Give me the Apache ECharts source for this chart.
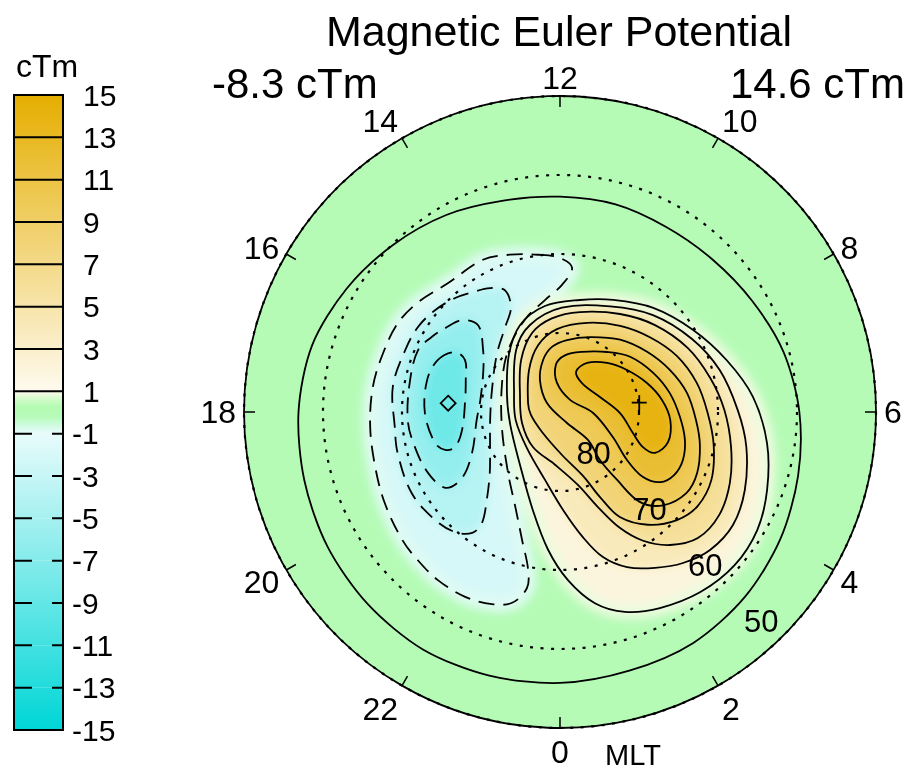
<!DOCTYPE html>
<html>
<head>
<meta charset="utf-8">
<title>Magnetic Euler Potential</title>
<script src="https://cdn.jsdelivr.net/npm/echarts@6/dist/echarts.min.js"></script>
<style>
  html, body { margin: 0; padding: 0; background: #fff; }
  #wrap { position: relative; width: 914px; height: 775px; }
  #shade, #main { position: absolute; left: 0; top: 0; width: 914px; height: 775px; }
  /* colour layer: softened so the filled bands read as a continuous field */
  #shade { filter: blur(5px); clip-path: circle(316px at 560px 412px); }
</style>
</head>
<body>
<div id="wrap"><div id="shade"></div><div id="main"></div></div>
<script>
// ---------- data ----------
const titleText = 'Magnetic Euler Potential';
const unit = 'cTm';
const minValue = -8.3;
const maxValue = 14.6;
// extremum locations as [magnetic latitude, MLT]
const minPos = [75.8, 17.7];
const maxPos = [79.9, 6.45];

// colour bar levels
const barLevels = [-15, -13, -11, -9, -7, -5, -3, -1, 1, 3, 5, 7, 9, 11, 13, 15];
// MLT hour labels round the rim
const hourLabels = [0, 2, 4, 6, 8, 10, 12, 14, 16, 18, 20, 22];
// latitude rings that get a label
const latRings = [80, 70, 60, 50];

// contour lines, each point is [magnetic latitude, MLT]
const contourNeg7 = [[73.2,16.46],[74.7,16.02],[76.3,16.09],[77.4,16.75],[77.9,17.52],[77.4,18.69],[76.0,19.23],[74.7,19.22],[73.7,18.93],[72.9,18.03],[72.7,17.1]];
const contourNeg5 = [[72.0,15.59],[73.0,15.12],[74.9,14.89],[77.5,15.41],[79.1,16.21],[79.8,17.43],[79.4,18.37],[77.7,19.67],[75.0,20.27],[72.6,20.23],[71.6,19.65],[71.1,18.9],[70.7,18.2],[70.6,17.2],[70.4,16.43],[71.2,15.97]];
const contourNeg3 = [[68.6,17.43],[69.0,18.35],[68.8,18.95],[68.6,19.91],[69.1,20.72],[69.8,21.25],[71.1,21.6],[72.8,21.66],[75.5,21.35],[78.2,20.74],[80.1,19.77],[81.1,18.43],[80.95,16.81],[79.2,15.19],[77.2,14.19],[75.4,13.68],[73.1,13.62],[72.0,13.96],[71.2,14.42],[70.4,14.84],[69.6,15.39],[69.05,15.94],[68.9,16.55]];
const contourNeg1 = [[69.9,12.53],[70.5,12.0],[71.7,11.68],[73.9,11.94],[75.7,12.51],[77.5,13.39],[79.8,14.67],[81.8,16.23],[82.4,18.97],[79.85,21.31],[76.9,22.28],[73.1,22.9],[69.6,23.24],[67.3,23.29],[65.1,23.06],[64.2,22.7],[63.7,22.19],[63.7,21.6],[64.0,21.08],[64.3,20.6],[65.0,19.83],[65.6,19.1],[65.9,18.3],[66.1,17.49],[66.4,16.77],[66.6,16.08],[67.3,15.48],[68.4,14.73],[68.4,13.79],[69.1,13.18]];
const contourPos1 = [[82.95,16.81],[80.3,14.79],[77.9,13.65],[76.45,12.54],[75.6,11.33],[74.3,10.31],[72.3,9.21],[70.2,8.11],[67.9,7.15],[65.5,6.3],[63.5,5.43],[62.0,4.63],[60.9,3.94],[60.6,3.25],[61.1,2.53],[62.15,1.8],[63.4,1.2],[65.4,0.69],[68.7,0.18],[72.5,23.67],[77.1,22.97],[81.6,21.53],[83.5,18.97]];
const contourPos3 = [[83.8,16.65],[80.4,14.36],[78.35,13.27],[76.8,11.93],[75.2,10.31],[73.0,9.08],[70.9,7.93],[69.1,6.98],[67.5,6.04],[66.0,5.29],[64.6,4.47],[63.85,3.79],[64.2,3.16],[65.35,2.61],[66.9,2.09],[68.6,1.56],[70.85,1.1],[73.9,0.69],[77.6,0.12],[81.2,23.17],[83.8,21.17],[84.3,18.69]];
const contourPos5 = [[84.5,16.47],[81.8,14.46],[79.4,13.3],[78.1,12.33],[77.1,11.25],[75.45,9.9],[73.7,8.83],[71.9,7.77],[70.5,6.85],[69.2,6.05],[67.9,5.23],[66.7,4.49],[66.0,3.81],[66.35,3.17],[68.15,2.64],[70.6,2.19],[73.5,1.82],[77.05,1.45],[80.5,0.92],[83.3,23.64],[84.4,21.49],[85.0,19.07]];
const contourPos7 = [[85.8,16.95],[83.4,14.43],[81.1,13.21],[79.5,12.14],[78.2,10.87],[76.7,9.67],[75.2,8.65],[73.6,7.71],[72.3,6.8],[71.3,5.97],[70.1,5.19],[69.0,4.39],[68.9,3.71],[69.85,3.15],[71.9,2.53],[74.7,1.98],[78.1,1.68],[81.4,1.32],[84.55,0.18],[86.6,21.2],[86.3,18.39]];
const contourPos9 = [[85.2,14.13],[83.1,13.21],[81.7,12.47],[80.85,11.63],[79.8,10.55],[78.1,9.35],[76.6,8.31],[75.1,7.39],[73.75,6.57],[72.75,5.77],[71.8,5.11],[71.0,4.4],[71.0,3.82],[72.4,3.19],[74.8,2.77],[78.8,2.67],[82.1,2.65],[85.0,3.0],[88.35,2.17],[88.0,15.69]];
const contourPos11 = [[86.3,12.39],[84.0,12.33],[82.8,11.67],[81.9,10.66],[80.35,9.46],[78.7,8.55],[77.2,7.52],[75.9,6.65],[74.8,5.84],[73.8,5.16],[73.3,4.58],[73.5,4.07],[74.5,3.67],[76.7,3.46],[79.6,3.63],[82.6,4.31],[85.8,5.89],[88.0,9.35]];
const contourPos13 = [[84.5,10.55],[82.9,10.07],[81.4,9.08],[80.0,8.14],[78.4,7.23],[77.0,6.45],[76.0,5.72],[75.8,4.97],[76.9,4.45],[78.6,4.47],[80.4,4.93],[82.4,5.93],[84.6,7.37],[85.4,9.52]];

// boundary curve: latitude at each whole MLT hour 0..23
const boundaryMlt = [0,1,2,3,4,5,6,7,8,9,10,11,12,13,14,15,16,17,18,19,20,21,22,23];
const boundaryLat = [55.7,56.1,56.25,56.9,57.8,58.8,59.7,60.7,61.9,62.7,63.0,62.8,62.75,62.3,61.2,60.1,58.8,57.5,56.9,56.5,56.0,55.6,55.3,55.45];

// ---------- styling ----------
const FONT = '"Liberation Sans", Arial, Helvetica, sans-serif';
const colourStops = [
  [-15, [0, 214, 214]],
  [-1, [232, 251, 251]],
  [-0.7, [214, 251, 234]],
  [-0.2, [181, 251, 184]],
  [0.3, [180, 251, 180]],
  [0.7, [215, 251, 205]],
  [1, [254, 250, 238]],
  [15, [229, 174, 0]]
];
function colourAt(v) {
  if (v <= colourStops[0][0]) return colourStops[0][1];
  for (let i = 1; i < colourStops.length; i++) {
    const [v1, c1] = colourStops[i];
    const [v0, c0] = colourStops[i - 1];
    if (v <= v1) {
      const t = (v - v0) / (v1 - v0);
      return c0.map((c, k) => Math.round(c + t * (c1[k] - c)));
    }
  }
  return colourStops[colourStops.length - 1][1];
}
const rgb = c => `rgb(${c[0]},${c[1]},${c[2]})`;

// contours drawn from the outside in
const contourSet = [
  { level: -1, pts: contourNeg1 },
  { level: -3, pts: contourNeg3 },
  { level: -5, pts: contourNeg5 },
  { level: -7, pts: contourNeg7 },
  { level: 1, pts: contourPos1 },
  { level: 3, pts: contourPos3 },
  { level: 5, pts: contourPos5 },
  { level: 7, pts: contourPos7 },
  { level: 9, pts: contourPos9 },
  { level: 11, pts: contourPos11 },
  { level: 13, pts: contourPos13 }
];
const contourData = contourSet.map((c, i) => [c.pts[0][0], c.pts[0][1], i]);

const polarCfg = { center: [560, 412], radius: [0, 316] };
const angleBase = { type: 'value', min: 0, max: 24, interval: 2, startAngle: 270, clockwise: false };
const radiusBase = { type: 'value', min: 50, max: 90, interval: 10, inverse: true };

// ---------- colour layer ----------
const shade = echarts.init(document.getElementById('shade'), null, { renderer: 'canvas' });
shade.setOption({
  animation: false,
  backgroundColor: rgb(colourAt(0)),
  polar: polarCfg,
  angleAxis: Object.assign({ show: false }, angleBase),
  radiusAxis: Object.assign({ show: false }, radiusBase),
  series: [{
    type: 'custom',
    coordinateSystem: 'polar',
    encode: { radius: 0, angle: 1 },
    data: contourData,
    renderItem(params, api) {
      const c = contourSet[api.value(2)];
      const pts = c.pts.map(p => api.coord(p));
      let inner = c.level > 0 ? Math.min(c.level + 1, 14.3) : c.level - 1;
      if (c.level === -7) inner = -8.3;
      const edge = Math.abs(c.level) === 1;
      return {
        type: 'polygon',
        z2: api.value(2),
        shape: { points: pts, smooth: 0.35 },
        style: {
          fill: rgb(colourAt(inner)),
          stroke: edge ? rgb(colourAt(c.level * 0.85)) : null,
          lineWidth: edge ? 15 : 0,
          lineJoin: 'round'
        }
      };
    }
  }]
});

// ---------- axes, lines, labels ----------
const main = echarts.init(document.getElementById('main'), null, { renderer: 'svg' });
const bands = barLevels.slice(0, -1).map((lo, i) => [0, lo, barLevels[i + 1]]);
const txt = (size, align, vAlign) => ({ fill: '#000', font: size + 'px ' + FONT, align, verticalAlign: vAlign, textAlign: align, textVerticalAlign: vAlign });

main.setOption({
  animation: false,
  backgroundColor: 'transparent',
  polar: polarCfg,
  angleAxis: Object.assign({
    axisLine: { lineStyle: { color: '#000', width: 1.8 } },
    axisTick: { inside: true, length: 11, lineStyle: { color: '#000', width: 1.5 } },
    axisLabel: { show: false },
    splitLine: { show: false }
  }, angleBase),
  radiusAxis: Object.assign({
    axisLine: { show: false },
    axisTick: { show: false },
    axisLabel: { show: false },
    splitLine: { show: true, lineStyle: { color: '#000', width: 2.2, type: [3, 7.5] } }
  }, radiusBase),
  grid: { left: 14, top: 95, width: 49, height: 635 },
  xAxis: { type: 'value', min: 0, max: 1, show: false },
  yAxis: {
    type: 'value', min: -15, max: 15, interval: 2, position: 'right',
    axisLine: { show: false }, axisTick: { show: false }, splitLine: { show: false },
    axisLabel: {
      margin: 9, color: '#000', fontSize: 30, fontFamily: FONT,
      formatter: v => (v > 0 ? '{p|' + v + '}' : '{n|' + v + '}'),
      rich: {
        p: { fontSize: 30, fontFamily: FONT, color: '#000', padding: [0, 0, 0, 11] },
        n: { fontSize: 30, fontFamily: FONT, color: '#000' }
      }
    }
  },
  graphic: [
    { type: 'text', x: 559, y: 31, style: Object.assign({ text: titleText }, txt(43, 'center', 'middle')) },
    { type: 'text', x: 212, y: 83, style: Object.assign({ text: minValue.toFixed(1) + ' ' + unit }, txt(42, 'left', 'middle')) },
    { type: 'text', x: 905, y: 83, style: Object.assign({ text: maxValue.toFixed(1) + ' ' + unit }, txt(42, 'right', 'middle')) },
    { type: 'text', x: 47, y: 66, style: Object.assign({ text: unit }, txt(32, 'center', 'middle')) },
    { type: 'text', x: 633, y: 755, style: Object.assign({ text: 'MLT' }, txt(29, 'center', 'middle')) }
  ],
  series: [
    {
      // colour bar bands with their level lines
      type: 'custom',
      coordinateSystem: 'cartesian2d',
      data: bands,
      renderItem(params, api) {
        const lo = api.value(1), hi = api.value(2);
        const a = api.coord([0, hi]), b = api.coord([1, lo]);
        const stops = [];
        for (let k = 0; k <= 8; k++) {
          const t = k / 8;
          stops.push({ offset: t, color: rgb(colourAt(hi - t * (hi - lo))) });
        }
        const children = [{
          type: 'rect',
          shape: { x: a[0], y: a[1], width: b[0] - a[0], height: b[1] - a[1] },
          style: { fill: { type: 'linear', x: 0, y: 0, x2: 0, y2: 1, colorStops: stops } }
        }];
        if (hi < 15) {
          children.push({
            type: 'line',
            z2: 5,
            shape: { x1: a[0], y1: a[1], x2: b[0], y2: a[1] },
            style: { stroke: '#000', lineWidth: 2, lineDash: hi < 0 ? [18, 20] : null }
          });
        }
        return { type: 'group', children };
      }
    },
    {
      // colour bar frame
      type: 'custom',
      coordinateSystem: 'cartesian2d',
      z: 3,
      data: [[0, -15, 15]],
      renderItem(params, api) {
        const a = api.coord([0, api.value(2)]), b = api.coord([1, api.value(1)]);
        return {
          type: 'rect',
          shape: { x: a[0], y: a[1], width: b[0] - a[0], height: b[1] - a[1] },
          style: { fill: null, stroke: '#000', lineWidth: 2 }
        };
      }
    },
    {
      // MLT hour labels outside the rim
      type: 'custom',
      coordinateSystem: 'polar',
      encode: { radius: 0, angle: 1 },
      data: hourLabels.map(h => [50, h]),
      renderItem(params, api) {
        const h = api.value(1);
        const p = api.coord([50, h]);
        const c = api.coord([90, h]);
        const len = Math.hypot(p[0] - c[0], p[1] - c[1]);
        const ux = (p[0] - c[0]) / len, uy = (p[1] - c[1]) / len;
        let x = p[0] + ux * 8, y = p[1] + uy * 8;
        const align = Math.abs(ux) < 0.3 ? 'center' : (ux > 0 ? 'left' : 'right');
        let vAlign = 'middle';
        if (uy < -0.6) { vAlign = 'bottom'; y += 6; }
        else if (uy > 0.6) { vAlign = 'top'; }
        else if (uy > 0.3) { y += 8; }
        else if (uy < -0.3) { y -= 2; }
        return { type: 'text', x, y, style: Object.assign({ text: String(h) }, txt(32, align, vAlign)) };
      }
    },
    {
      // boundary curve
      type: 'custom',
      coordinateSystem: 'polar',
      encode: { radius: 0, angle: 1 },
      data: [[boundaryLat[0], boundaryMlt[0]]],
      renderItem(params, api) {
        const pts = boundaryMlt.map((m, i) => api.coord([boundaryLat[i], m]));
        return { type: 'polygon', shape: { points: pts, smooth: 0.3 }, style: { fill: null, stroke: '#000', lineWidth: 1.8 } };
      }
    },
    {
      // contour lines: solid for positive, dashed for negative levels
      type: 'custom',
      coordinateSystem: 'polar',
      encode: { radius: 0, angle: 1 },
      data: contourData,
      renderItem(params, api) {
        const c = contourSet[api.value(2)];
        const pts = c.pts.map(p => api.coord(p));
        return {
          type: 'polygon',
          shape: { points: pts, smooth: 0.35 },
          style: { fill: null, stroke: '#000', lineWidth: 1.8, lineDash: c.level < 0 ? [16, 9] : null }
        };
      }
    },
    {
      // latitude ring labels along the 03 MLT meridian
      type: 'custom',
      coordinateSystem: 'polar',
      encode: { radius: 0, angle: 1 },
      data: latRings.map(l => [l, 3]),
      renderItem(params, api) {
        const p = api.coord([api.value(0), api.value(1)]);
        return {
          type: 'text',
          x: p[0] - 5, y: p[1] - 14,
          style: Object.assign({ text: String(api.value(0)) }, txt(31, 'right', 'middle'))
        };
      }
    },
    {
      // maximum (+) and minimum (diamond) markers
      type: 'custom',
      coordinateSystem: 'polar',
      encode: { radius: 0, angle: 1 },
      data: [[maxPos[0], maxPos[1], 1], [minPos[0], minPos[1], -1]],
      renderItem(params, api) {
        const p = api.coord([api.value(0), api.value(1)]);
        const s = 7.5;
        if (api.value(2) > 0) {
          return {
            type: 'group', children: [
              { type: 'line', shape: { x1: p[0] - s, y1: p[1], x2: p[0] + s, y2: p[1] }, style: { stroke: '#000', lineWidth: 1.8 } },
              { type: 'line', shape: { x1: p[0], y1: p[1] - s, x2: p[0], y2: p[1] + s }, style: { stroke: '#000', lineWidth: 1.8 } }
            ]
          };
        }
        return {
          type: 'polygon',
          shape: { points: [[p[0], p[1] - s], [p[0] + s, p[1]], [p[0], p[1] + s], [p[0] - s, p[1]]] },
          style: { fill: null, stroke: '#000', lineWidth: 1.8 }
        };
      }
    }
  ]
});
</script>
</body>
</html>
